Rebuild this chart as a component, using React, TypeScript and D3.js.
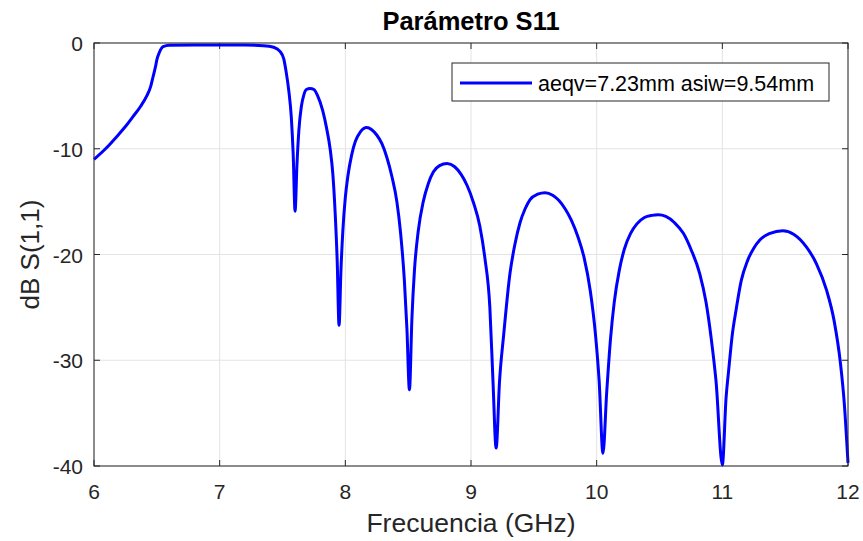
import React from "react";
import * as d3 from "d3";

const freqGHz: number[] = [
  6.0, 6.1, 6.18, 6.25, 6.31, 6.37, 6.42, 6.45, 6.47, 6.49, 6.5, 6.52, 6.55, 6.6, 6.8, 7.0, 7.2, 7.35, 7.43, 7.48,
  7.51, 7.53, 7.55, 7.57, 7.585, 7.6, 7.615, 7.63, 7.65, 7.67, 7.69, 7.72, 7.75, 7.78, 7.82, 7.85, 7.88, 7.9, 7.92, 7.935,
  7.95, 7.965, 7.98, 8.0, 8.02, 8.05, 8.08, 8.12, 8.17, 8.21, 8.25, 8.29, 8.33, 8.37, 8.41, 8.44, 8.47, 8.49, 8.51, 8.53,
  8.55, 8.58, 8.62, 8.66, 8.7, 8.75, 8.81, 8.87, 8.92, 8.97, 9.02, 9.07, 9.11, 9.15, 9.175, 9.2, 9.227, 9.26, 9.31, 9.35,
  9.39, 9.43, 9.47, 9.53, 9.59, 9.65, 9.7, 9.75, 9.8, 9.85, 9.9, 9.95, 9.99, 10.02, 10.05, 10.08, 10.11, 10.14, 10.18, 10.22,
  10.27, 10.32, 10.38, 10.44, 10.49, 10.55, 10.62, 10.69, 10.75, 10.82, 10.87, 10.91, 10.95, 11.0, 11.03, 11.05, 11.08, 11.11, 11.15, 11.2,
  11.25, 11.3, 11.38, 11.48, 11.57, 11.67, 11.75, 11.83, 11.89, 11.94, 11.97, 12.0,
];

const s11dB: number[] = [
  -11.0, -9.9, -8.86, -7.9, -6.97, -6.0, -5.0, -4.15, -3.19, -2.2, -1.6, -0.9, -0.35, -0.22, -0.2, -0.2, -0.2, -0.25, -0.4, -0.8,
  -1.5, -2.8, -4.5, -7.0, -10.5, -15.9, -11.5, -8.3, -6.0, -4.9, -4.4, -4.3, -4.4, -5.0, -6.4, -8.0, -10.1, -12.3, -16.3, -20.5,
  -26.7, -21.5, -17.8, -14.6, -12.6, -10.6, -9.3, -8.4, -8.0, -8.2, -8.7, -9.5, -10.8, -12.6, -15.0, -18.0, -22.5, -27.0, -32.8, -26.0,
  -21.5, -17.8, -15.0, -13.3, -12.2, -11.6, -11.4, -11.7, -12.4, -13.5, -15.1, -17.3, -20.3, -25.0, -32.0, -38.3, -32.0, -27.6, -21.8, -19.0,
  -17.0, -15.7, -14.8, -14.3, -14.15, -14.4, -14.9, -15.7, -16.8, -18.3, -20.3, -23.5, -27.5, -32.0, -38.8, -33.0, -28.0, -24.5, -21.5, -19.5,
  -18.0, -17.1, -16.5, -16.3, -16.25, -16.4, -17.0, -18.0, -19.5, -21.8, -24.5, -27.8, -32.0, -39.9, -33.5, -31.0, -27.5, -25.2, -22.5, -20.6,
  -19.4, -18.6, -18.0, -17.75, -18.1, -19.3, -20.9, -23.4, -26.3, -30.3, -34.0, -39.7,
];

const xTicks: number[] = [6, 7, 8, 9, 10, 11, 12];
const yTicks: number[] = [0, -10, -20, -30, -40];

const titleText = "Parámetro S11";
const xLabelText = "Frecuencia (GHz)";
const yLabelText = "dB S(1,1)";
const legendText = "aeqv=7.23mm asiw=9.54mm";

export default function App() {
  const W = 863;
  const H = 541;
  const m = { left: 94, right: 848, top: 43, bottom: 466 };
  const x = d3.scaleLinear().domain([6, 12]).range([m.left, m.right]);
  const y = d3.scaleLinear().domain([-40, 0]).range([m.bottom, m.top]);
  const data = freqGHz.map((f, i) => [f, s11dB[i]] as [number, number]);
  const line = d3
    .line<[number, number]>()
    .x((d) => x(d[0]))
    .y((d) => y(d[1]))
    .curve(d3.curveMonotoneX);

  const axisColor = "#262626";
  const gridColor = "#e3e3e3";
  const font = "'Liberation Sans', Arial, Helvetica, sans-serif";
  const tickLen = 6;

  return (
    <svg
      width={W}
      height={H}
      style={{ position: "absolute", left: 0, top: 0, background: "#fff" }}
      fontFamily={font}
    >
      <rect x={0} y={0} width={W} height={H} fill="#fff" />
      {xTicks.map((t) => (
        <line key={"gx" + t} x1={x(t)} x2={x(t)} y1={m.top} y2={m.bottom} stroke={gridColor} strokeWidth={1} />
      ))}
      {yTicks.map((t) => (
        <line key={"gy" + t} x1={m.left} x2={m.right} y1={y(t)} y2={y(t)} stroke={gridColor} strokeWidth={1} />
      ))}
      {xTicks.map((t) => (
        <g key={"tx" + t}>
          <line x1={x(t)} x2={x(t)} y1={m.bottom} y2={m.bottom - tickLen} stroke={axisColor} strokeWidth={1} />
          <line x1={x(t)} x2={x(t)} y1={m.top} y2={m.top + tickLen} stroke={axisColor} strokeWidth={1} />
          <text x={x(t)} y={m.bottom + 33} textAnchor="middle" fontSize={21} fill={axisColor}>
            {t}
          </text>
        </g>
      ))}
      {yTicks.map((t) => (
        <g key={"ty" + t}>
          <line x1={m.left} x2={m.left + tickLen} y1={y(t)} y2={y(t)} stroke={axisColor} strokeWidth={1} />
          <line x1={m.right} x2={m.right - tickLen} y1={y(t)} y2={y(t)} stroke={axisColor} strokeWidth={1} />
          <text x={m.left - 11} y={y(t) + 8} textAnchor="end" fontSize={21} fill={axisColor}>
            {t}
          </text>
        </g>
      ))}
      <path d={line(data) || ""} fill="none" stroke="#0000ff" strokeWidth={3} strokeLinejoin="round" />
      <rect
        x={m.left}
        y={m.top}
        width={m.right - m.left}
        height={m.bottom - m.top}
        fill="none"
        stroke={axisColor}
        strokeWidth={1}
      />
      <rect x={452} y={63} width={377} height={38} fill="#fff" stroke={axisColor} strokeWidth={1} />
      <line x1={460} x2={532} y1={83} y2={83} stroke="#0000ff" strokeWidth={3} />
      <text x={538} y={91} fontSize={21.5} fill="#000">
        {legendText}
      </text>
      <text x={(m.left + m.right) / 2} y={30} textAnchor="middle" fontSize={25.5} fontWeight="bold" fill="#000">
        {titleText}
      </text>
      <text x={(m.left + m.right) / 2} y={532} textAnchor="middle" fontSize={26.5} fill={axisColor}>
        {xLabelText}
      </text>
      <text
        transform={`translate(39, ${(m.top + m.bottom) / 2}) rotate(-90)`}
        textAnchor="middle"
        fontSize={26}
        fill={axisColor}
      >
        {yLabelText}
      </text>
    </svg>
  );
}
